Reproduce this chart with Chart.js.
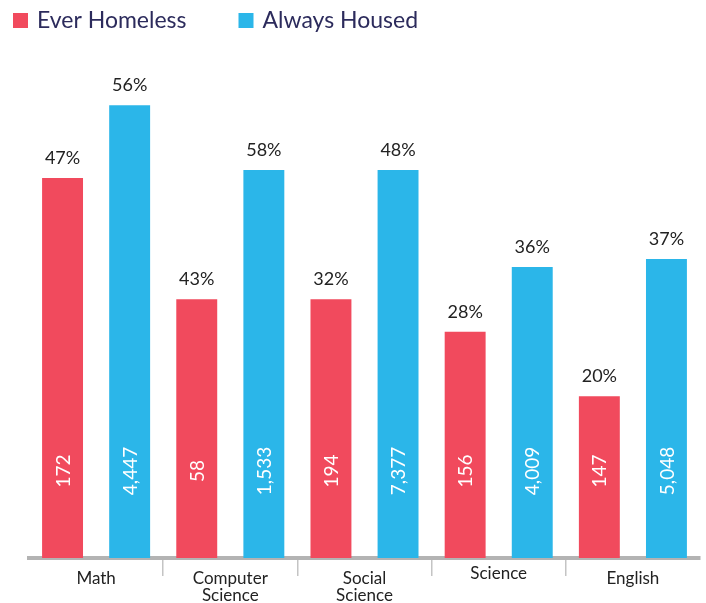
<!DOCTYPE html>
<html>
<head>
<meta charset="utf-8">
<script src="https://cdn.jsdelivr.net/npm/chart.js@4.4.1/dist/chart.umd.min.js"></script>
<style>
  html, body { margin: 0; padding: 0; background: #ffffff; }
  #wrap { width: 706px; height: 603px; position: relative; }
</style>
</head>
<body>
<div id="wrap"><canvas id="c"></canvas></div>
<script>
// ---- data ----
const categories = [["Math"], ["Computer", "Science"], ["Social", "Science"], ["Science"], ["English"]];
const seriesNames = ["Ever Homeless", "Always Housed"];
// bar heights as drawn in the picture (percent)
const everHomelessHeights = [47, 32, 32, 28, 20];
const alwaysHousedHeights = [56, 48, 48, 36, 37];
// percentage labels printed above the bars
const everHomelessPctLabels = ["47%", "43%", "32%", "28%", "20%"];
const alwaysHousedPctLabels = ["56%", "58%", "48%", "36%", "37%"];
// counts printed inside the bars
const everHomelessCounts = ["172", "58", "194", "156", "147"];
const alwaysHousedCounts = ["4,447", "1,533", "7,377", "4,009", "5,048"];
const yMax = 60;

const RED = "#F14A5D";
const BLUE = "#2BB6E9";
const FONT = "Lato, 'Open Sans', sans-serif";

const pctLabels = [everHomelessPctLabels, alwaysHousedPctLabels];
const countLabels = [everHomelessCounts, alwaysHousedCounts];

const barLabelPlugin = {
  id: "barLabels",
  afterDatasetsDraw(chart) {
    const ctx = chart.ctx;
    const area = chart.chartArea;
    chart.data.datasets.forEach((ds, di) => {
      const meta = chart.getDatasetMeta(di);
      meta.data.forEach((bar, i) => {
        ctx.save();
        ctx.font = "18px " + FONT;
        ctx.fillStyle = "#222222";
        ctx.textAlign = "center";
        ctx.textBaseline = "alphabetic";
        ctx.fillText(pctLabels[di][i], bar.x, bar.y - 14);
        ctx.restore();
        ctx.save();
        ctx.translate(bar.x, area.bottom - 87);
        ctx.rotate(-Math.PI / 2);
        ctx.font = "19px " + FONT;
        ctx.fillStyle = "#ffffff";
        ctx.textAlign = "center";
        ctx.textBaseline = "middle";
        ctx.fillText(countLabels[di][i], 0, 1);
        ctx.restore();
      });
    });
  }
};

const legendPlugin = {
  id: "customLegend",
  afterDraw(chart) {
    const ctx = chart.ctx;
    ctx.save();
    ctx.font = "23px " + FONT;
    ctx.textBaseline = "middle";
    let x = 13;
    chart.data.datasets.forEach((ds, di) => {
      ctx.fillStyle = ds.backgroundColor;
      ctx.fillRect(x, 13, 15, 15);
      ctx.fillStyle = "#2C2B5C";
      ctx.textAlign = "left";
      ctx.fillText(ds.label, x + 24, 21);
      x = x + 24 + ctx.measureText(ds.label).width + 52;
    });
    ctx.restore();
  }
};

new Chart(document.getElementById("c"), {
  type: "bar",
  data: {
    labels: categories,
    datasets: [
      { label: seriesNames[0], data: everHomelessHeights, backgroundColor: RED },
      { label: seriesNames[1], data: alwaysHousedHeights, backgroundColor: BLUE }
    ]
  },
  options: {
    responsive: true,
    maintainAspectRatio: false,
    animation: false,
    layout: { padding: { top: 73, left: 29, right: 6, bottom: 0 } },
    plugins: {
      legend: { display: false },
      tooltip: { enabled: false }
    },
    datasets: { bar: { categoryPercentage: 1.0, barPercentage: 0.61 } },
    scales: {
      x: {
        z: 1,
        afterFit(scale) { scale.height = 45; },
        grid: {
          offset: true,
          drawOnChartArea: false,
          drawTicks: true,
          tickLength: 18,
          lineWidth: 1.5,
          color: (c) => (c.type === "tick" && c.index > 0) ? "#c4c4c4" : "rgba(0,0,0,0)"
        },
        border: { display: true, color: "#b3b3b3", width: 4 },
        ticks: {
          color: "#222222",
          font: (c) => ({ family: FONT, size: 17, lineHeight: (c.index === 3) ? 0.45 : 1.0 }),
          padding: -6,
          maxRotation: 0,
          autoSkip: false
        }
      },
      y: {
        display: false,
        min: 0,
        max: yMax
      }
    }
  },
  plugins: [barLabelPlugin, legendPlugin]
});
</script>
</body>
</html>
